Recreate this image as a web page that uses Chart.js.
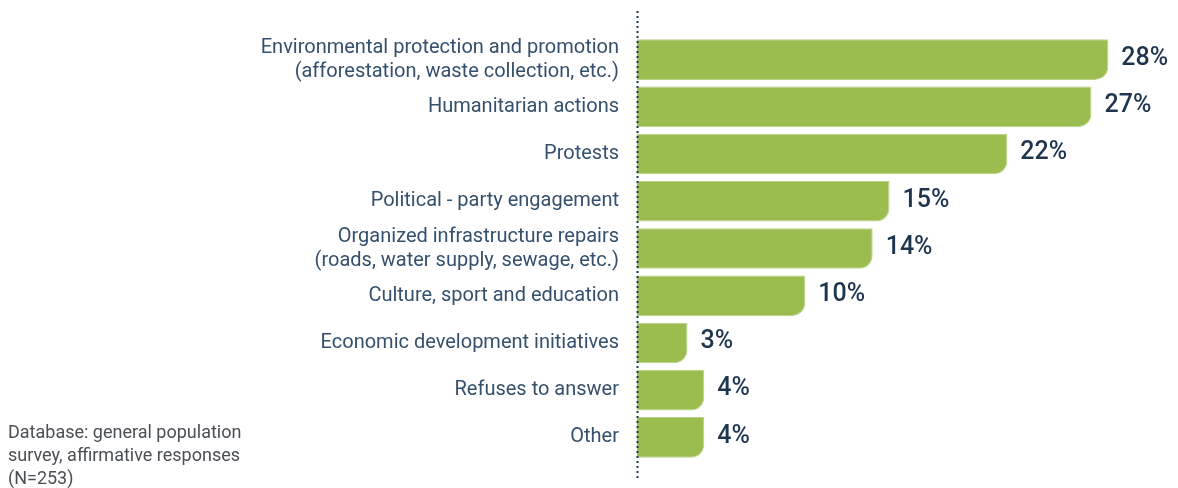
<!DOCTYPE html>
<html>
<head>
<meta charset="utf-8">
<script src="https://cdn.jsdelivr.net/npm/chart.js"></script>
<style>
    html, body { margin: 0; padding: 0; background: #fff; }
    #wrap { position: relative; width: 1178px; height: 488px; }
    #note {
        position: absolute; left: 8px; top: 420px;
        font-family: Roboto, sans-serif; font-size: 18px; line-height: 23px;
        color: #4a4f55;
    }
</style>
</head>
<body>
<div id="wrap">
    <canvas id="bar" width="1178" height="488"></canvas>
    <div id="note">Database: general population<br>survey, affirmative responses<br>(N=253)</div>
</div>
<script>
var categories = [
    ['Environmental protection and promotion', '(afforestation, waste collection, etc.)'],
    'Humanitarian actions',
    'Protests',
    'Political - party engagement',
    ['Organized infrastructure repairs', '(roads, water supply, sewage, etc.)'],
    'Culture, sport and education',
    'Economic development initiatives',
    'Refuses to answer',
    'Other'
];
var shares = [28, 27, 22, 15, 14, 10, 3, 4, 4];

// dotted zero line, runs past the plot area top and bottom
var zeroLine = {
    id: 'zeroLine',
    afterDatasetsDraw: function (chart) {
        var ctx = chart.ctx;
        var x = Math.round(chart.scales.x.getPixelForValue(0)) + 0.5;
        ctx.save();
        ctx.strokeStyle = '#1e3550';
        ctx.lineWidth = 2;
        ctx.setLineDash([2, 3]);
        ctx.beginPath();
        ctx.moveTo(x, 11);
        ctx.lineTo(x, 478);
        ctx.stroke();
        ctx.restore();
    }
};

// percentage next to each bar
var valueLabels = {
    id: 'valueLabels',
    afterDatasetsDraw: function (chart) {
        var ctx = chart.ctx;
        var meta = chart.getDatasetMeta(0);
        ctx.save();
        ctx.fillStyle = '#1e3550';
        ctx.font = '500 25px Roboto, sans-serif';
        ctx.textAlign = 'left';
        ctx.textBaseline = 'middle';
        meta.data.forEach(function (bar, i) {
            ctx.fillText(shares[i] + '%', bar.x + 13, bar.y - 1);
        });
        ctx.restore();
    }
};

var ctx = document.getElementById('bar');

var barGraph = new Chart(ctx, {
    type: 'bar',
    data: {
        labels: categories,
        datasets: [{
            data: shares,
            backgroundColor: '#9bbd4f',
            borderColor: '#b9d386',
            borderWidth: 1,
            borderSkipped: 'start',
            borderRadius: {topLeft: 0, topRight: 0, bottomLeft: 0, bottomRight: 13},
            categoryPercentage: 0.86,
            barPercentage: 1
        }]
    },
    options: {
        indexAxis: 'y',
        responsive: false,
        animation: false,
        layout: {padding: {top: 36, bottom: 27, left: 0, right: 36}},
        plugins: {
            legend: {display: false},
            tooltip: {enabled: false}
        },
        scales: {
            x: {
                display: false,
                min: 0,
                max: 30
            },
            y: {
                grid: {display: false, drawTicks: false},
                border: {display: false},
                ticks: {
                    autoSkip: false,
                    padding: 18,
                    color: '#34506c',
                    font: {family: 'Roboto, sans-serif', size: 20, lineHeight: 1.2}
                },
                afterFit: function (scale) {
                    scale.width = 637;
                    // labels must not push the plot area in
                    scale.paddingTop = 0;
                    scale.paddingBottom = 0;
                }
            }
        }
    },
    plugins: [zeroLine, valueLabels]
});
</script>
</body>
</html>
